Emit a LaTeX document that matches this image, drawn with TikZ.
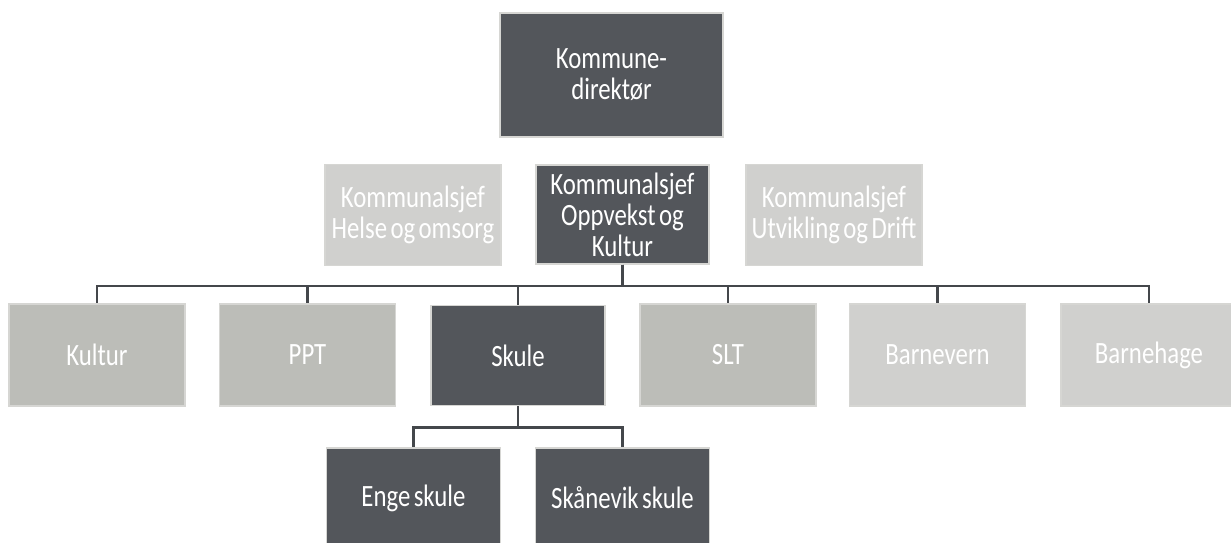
\documentclass[tikz,border=0pt]{standalone}
\usepackage{fontspec}
\setmainfont{Carlito}[FakeStretch=0.8, WordSpace=0.6]
\definecolor{darkbox}{HTML}{53565B}
\definecolor{midbox}{HTML}{BCBDB8}
\definecolor{lightbox}{HTML}{D0D0CE}
\definecolor{boxline}{HTML}{D6D6D3}
\definecolor{linkline}{HTML}{44474B}
\tikzset{
  unit/.style={draw=boxline, line width=1.5pt, text=white, align=center,
    font=\fontsize{31}{31}\selectfont, inner sep=0pt},
  darkunit/.style={unit, fill=darkbox},
  midunit/.style={unit, fill=midbox},
  lightunit/.style={unit, fill=lightbox},
  link/.style={draw=linkline, line width=2.5pt}
}
\begin{document}
\begin{tikzpicture}[x=1pt, y=-1pt]
\useasboundingbox (0,0) rectangle (1231,543);

% Top
\node[darkunit, minimum width=223pt, minimum height=124pt] (dir) at (611.5,75) {Kommune-\\direktør};

% Kommunalsjefar
\node[lightunit, minimum width=176pt, minimum height=101pt] (helse) at (413,215) {Kommunalsjef\\Helse og omsorg};
\node[darkunit, minimum width=173pt, minimum height=99pt] (oppvekst) at (622.5,214.5) {Kommunalsjef\\Oppvekst og\\Kultur};
\node[lightunit, minimum width=176pt, minimum height=101pt] (utvikling) at (834,215) {Kommunalsjef\\Utvikling og Drift};

% Einingar
\node[midunit, minimum width=176pt, minimum height=102pt] (kultur) at (97,355) {Kultur};
\node[midunit, minimum width=176pt, minimum height=102pt] (ppt) at (307.5,355) {PPT};
\node[darkunit, minimum width=174pt, minimum height=100pt] (skule) at (518,355.5) {Skule};
\node[midunit, minimum width=176pt, minimum height=102pt] (slt) at (728,355) {SLT};
\node[lightunit, minimum width=176pt, minimum height=102pt] (barnevern) at (937.5,355) {Barnevern};
\node[lightunit, minimum width=176pt, minimum height=102pt] (barnehage) at (1149,355) {Barnehage};

% Skular
\node[darkunit, minimum width=174pt, minimum height=100pt] (enge) at (413.5,498) {Enge skule};
\node[darkunit, minimum width=174pt, minimum height=100pt] (skaanevik) at (622.5,498) {Skånevik skule};

% Links
\foreach \n in {kultur,ppt,skule,slt,barnevern,barnehage}
  \draw[link] (oppvekst.south) -- ++(0,21) -| (\n.north);
\foreach \n in {enge,skaanevik}
  \draw[link] (skule.south) -- ++(0,21) -| (\n.north);

\end{tikzpicture}
\end{document}
